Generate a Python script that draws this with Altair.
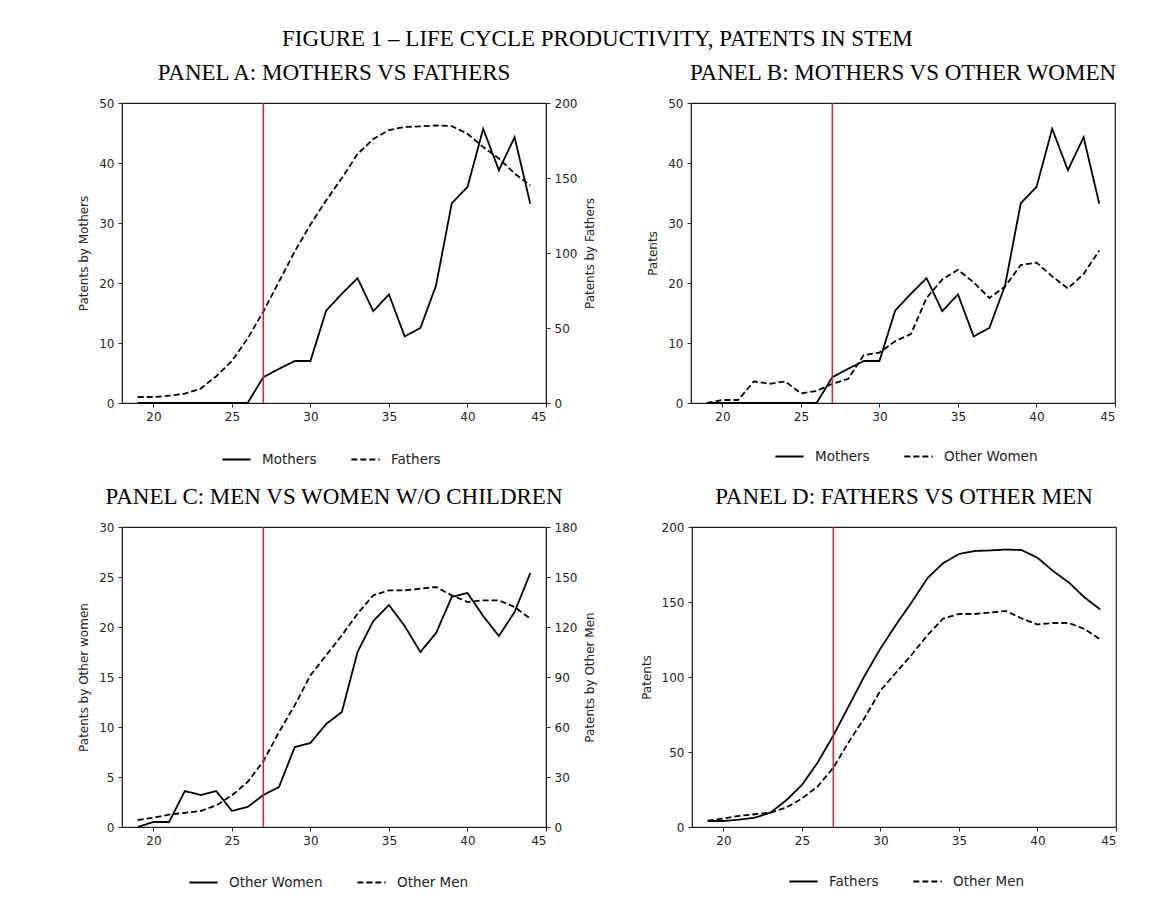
import altair as alt
import pandas as pd

# Age of the inventor (x axis) and patent counts per series
ages = list(range(19, 45))
mothers = [0, 0, 0, 0, 0, 0, 0, 0,
           4.3, 5.7, 7.0, 7.0, 15.4, 18.2, 20.8, 15.3, 18.1, 11.1,
           12.5, 19.6, 33.3, 36.0, 45.7, 38.8, 44.3, 33.2]
fathers = [4.0, 4.0, 4.9, 6.2, 9.6, 17.8, 28, 43, 61, 81, 101, 119, 135,
           150, 166, 176, 182, 184, 184.4, 185, 184.6, 179.5, 170.6, 163,
           153, 145]
other_women = [0.0, 0.5, 0.5, 3.6, 3.2, 3.6, 1.6, 2.0, 3.2, 4.0, 8.0, 8.4,
               10.3, 11.5, 17.5, 20.6, 22.2, 20.1, 17.5, 19.4, 23.0, 23.4,
               21.1, 19.1, 21.5, 25.4]
other_men = [4.2, 5.6, 7.4, 8.5, 9.6, 13.0, 19.0, 27.0, 39.5, 57, 73, 91,
             103, 115, 128, 139, 142, 142, 143, 144, 139, 135, 136, 136,
             132, 125]

birth_age = 27
x_ticks = [20, 25, 30, 35, 40, 45]

LINE = "black"
RED = "#c8282a"
SERIF = "Liberation Serif"
SANS = "DejaVu Sans"
W, H = 424, 300


def frame(a, b, name_a, name_b):
    return pd.DataFrame({
        "age": ages * 2,
        "value": a + b,
        "series": [name_a] * len(ages) + [name_b] * len(ages),
    })


def x_enc():
    return alt.X("age:Q", scale=alt.Scale(domain=[18, 45], nice=False, zero=False),
                 axis=alt.Axis(values=x_ticks, title=None, format="d"))


def dash_enc(names, lx, ly):
    return alt.StrokeDash(
        "series:N",
        scale=alt.Scale(domain=names, range=[[1, 0], [6, 3]]),
        sort=names,
        legend=alt.Legend(
            title=None, orient="none", direction="horizontal",
            legendX=lx, legendY=ly,
            symbolType="stroke", symbolSize=800, symbolStrokeWidth=1.8,
            symbolStrokeColor=LINE, labelFont=SANS, labelFontSize=13.5,
            labelColor="#222", columnPadding=30, labelOffset=10,
        ),
    )


def red_rule():
    return alt.Chart(pd.DataFrame({"age": [birth_age]})).mark_rule(
        color=RED, strokeWidth=1.5).encode(x=x_enc())


def panel_title(text):
    return alt.Title(text, font=SERIF, fontSize=23, fontWeight="normal",
                     color="black", anchor="middle", offset=12)


def dual_panel(df, names, left_dom, left_step, left_title,
               right_dom, right_step, right_title, title, lx, ly):
    left = alt.Chart(df).transform_filter(alt.datum.series == names[0]).mark_line(
        color=LINE, strokeWidth=1.8).encode(
        x=x_enc(),
        y=alt.Y("value:Q", scale=alt.Scale(domain=left_dom, nice=False),
                axis=alt.Axis(orient="left", title=left_title,
                              values=list(range(left_dom[0], left_dom[1] + 1, left_step)))),
        strokeDash=dash_enc(names, lx, ly),
    )
    right = alt.Chart(df).transform_filter(alt.datum.series == names[1]).mark_line(
        color=LINE, strokeWidth=1.8).encode(
        x=x_enc(),
        y=alt.Y("value:Q", scale=alt.Scale(domain=right_dom, nice=False),
                axis=alt.Axis(orient="right", title=right_title, titleAngle=270,
                              titleBaseline="top", titlePadding=8,
                              values=list(range(right_dom[0], right_dom[1] + 1, right_step)))),
        strokeDash=dash_enc(names, lx, ly),
    )
    return alt.layer(left, right, red_rule()).resolve_scale(y="independent").properties(
        width=W, height=H, title=panel_title(title))


def single_panel(df, names, dom, step, y_title, title, lx, ly):
    lines = alt.Chart(df).mark_line(color=LINE, strokeWidth=1.8).encode(
        x=x_enc(),
        y=alt.Y("value:Q", scale=alt.Scale(domain=dom, nice=False),
                axis=alt.Axis(title=y_title, values=list(range(dom[0], dom[1] + 1, step)))),
        strokeDash=dash_enc(names, lx, ly),
        detail="series:N",
    )
    return alt.layer(lines, red_rule()).properties(
        width=W, height=H, title=panel_title(title))


panel_a = dual_panel(frame(mothers, fathers, "Mothers", "Fathers"),
                     ["Mothers", "Fathers"], [0, 50], 10, "Patents by Mothers",
                     [0, 200], 50, "Patents by Fathers",
                     "PANEL A: MOTHERS VS FATHERS", 99, 341)
panel_b = single_panel(frame(mothers, other_women, "Mothers", "Other Women"),
                       ["Mothers", "Other Women"], [0, 50], 10, "Patents",
                       "PANEL B: MOTHERS VS OTHER WOMEN", 83, 338)
panel_c = dual_panel(frame(other_women, other_men, "Other Women", "Other Men"),
                     ["Other Women", "Other Men"], [0, 30], 5, "Patents by Other women",
                     [0, 180], 30, "Patents by Other Men",
                     "PANEL C: MEN VS WOMEN W/O CHILDREN", 66, 340)
panel_d = single_panel(frame(fathers, other_men, "Fathers", "Other Men"),
                       ["Fathers", "Other Men"], [0, 200], 50, "Patents",
                       "PANEL D: FATHERS VS OTHER MEN", 96, 339)

row1 = alt.hconcat(panel_a, panel_b, spacing=49).resolve_scale(
    strokeDash="independent").resolve_legend(strokeDash="independent")
row2 = alt.hconcat(panel_c, panel_d, spacing=42).resolve_scale(
    strokeDash="independent").resolve_legend(strokeDash="independent")

chart = alt.vconcat(row1, row2, spacing=18).resolve_scale(
    strokeDash="independent").resolve_legend(strokeDash="independent").properties(
    title=alt.Title("FIGURE 1 – LIFE CYCLE PRODUCTIVITY, PATENTS IN STEM",
                    font=SERIF, fontSize=23, fontWeight="normal",
                    color="black", anchor="middle", offset=10),
    padding={"left": 77, "top": 28, "right": 10, "bottom": 10},
).configure_view(
    stroke="#222", strokeWidth=1.2
).configure_axis(
    labelFont=SANS, labelFontSize=12, labelColor="#222",
    titleFont=SANS, titleFontSize=12, titleFontWeight="normal", titleColor="#222",
    tickColor="#222", domainColor="#222", tickSize=4, labelPadding=4,
    titlePadding=8, grid=False,
)

chart.save("out.html", embed_options={"renderer": "svg", "actions": False})
